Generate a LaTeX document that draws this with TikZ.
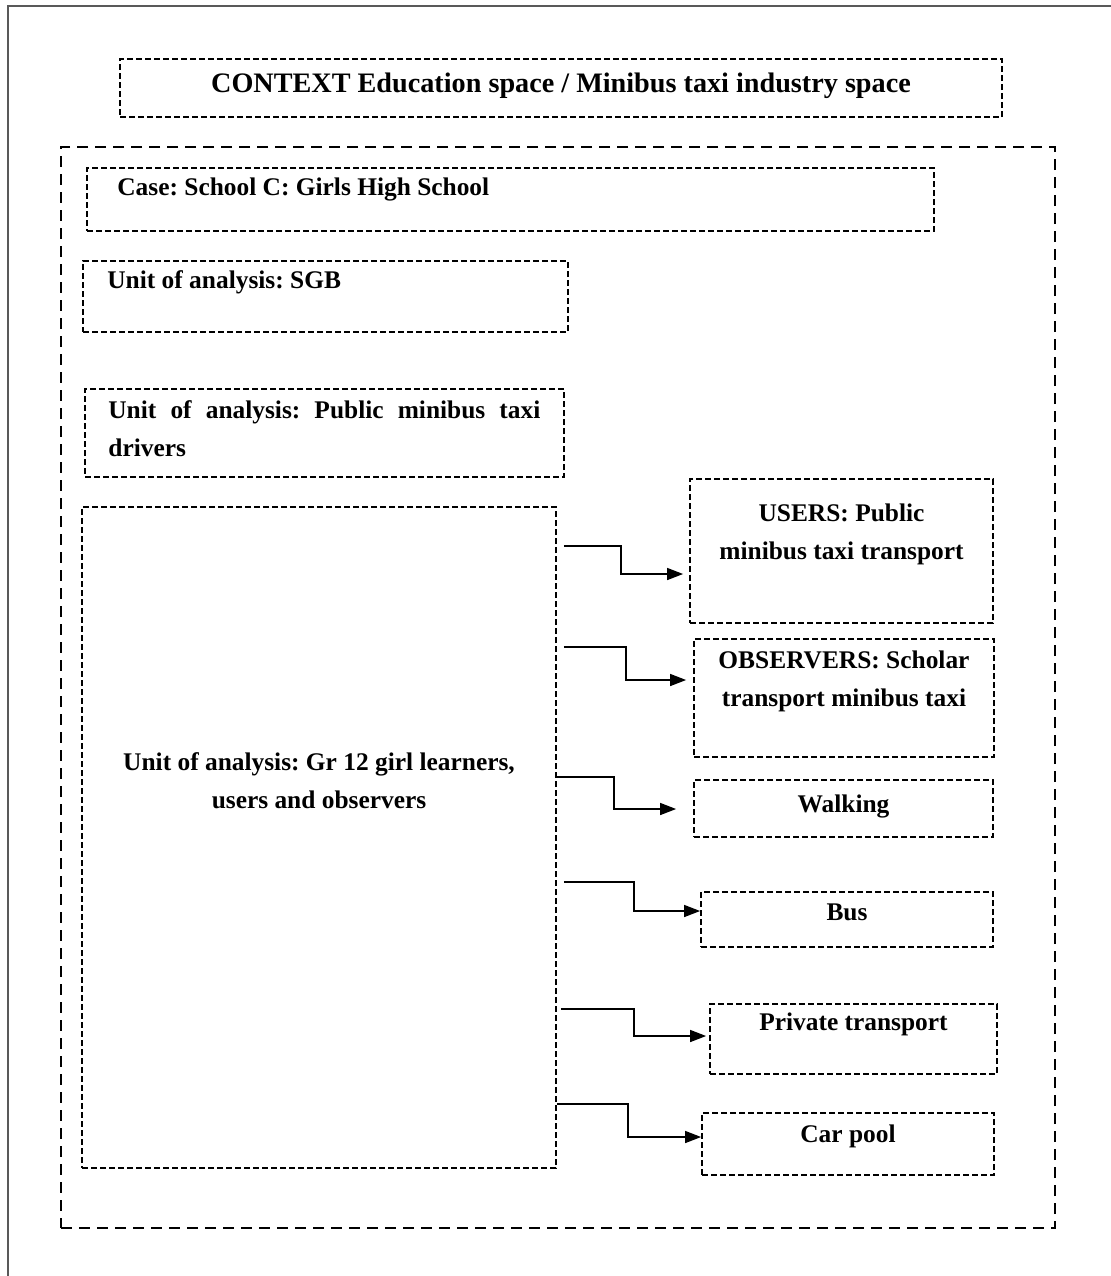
\documentclass[tikz,border=0pt]{standalone}
\usepackage{fontspec}
\setmainfont{Liberation Serif}
\usetikzlibrary{arrows.meta,fit}
\begin{document}
\frenchspacing
\begin{tikzpicture}[x=0.5pt,y=-0.5pt,
  box/.style={draw=black, line width=0.9pt, dash pattern=on 3pt off 1.5pt, inner sep=0pt},
  bigbox/.style={draw=black, line width=1.1pt, dash pattern=on 5.5pt off 3.5pt, inner sep=0pt},
  txt/.style={font=\fontsize{12.7}{19}\selectfont\bfseries, inner sep=0pt, anchor=base, align=center},
  txtl/.style={txt, anchor=base west, align=left},
  link/.style={draw=black, line width=0.75pt, -{Triangle[length=8pt,width=6pt]}}]
\clip (0,0) rectangle (1111,1276);
\useasboundingbox (0,0) rectangle (1111,1276);
% page frame
\draw[line width=1pt, draw=black!65] (8,6) rectangle (1140,1300);

% context
\node[box, fit={(120,59) (1002,117)}] (context) {};
\node[txt, font=\fontsize{14.1}{19}\selectfont\bfseries] (contexttext) at (561,92)
  {CONTEXT Education space / Minibus taxi industry space};

% case frame
\node[bigbox, fit={(61,147) (1055,1228)}] (casespace) {};

\node[box, fit={(87,168) (934,231)}] (case) {};
\node[txtl] (casetext) at (117,195) {Case: School C: Girls High School};

\node[box, fit={(83,261) (568,332)}] (sgb) {};
\node[txtl] (sgbtext) at (107,288) {Unit of analysis: SGB};

% two-line texts: the base anchor sits on the last line
\node[box, fit={(85,389) (564,477)}] (drivers) {};
\node[txtl] (driverstext) at (108,456)
  {\makebox[216pt][s]{Unit of analysis: Public minibus taxi}\\drivers};

\node[box, fit={(82,507) (556,1168)}] (learners) {};
\node[txt] (learnerstext) at (319,808) {Unit of analysis: Gr 12 girl learners,\\users and observers};

% modes of transport
\node[box, fit={(690,479) (993,623)}] (users) {};
\node[txt] (userstext) at (841.5,559) {USERS: Public\\minibus taxi transport};

\node[box, fit={(694,639) (994,757)}] (observers) {};
\node[txt] (observerstext) at (844,706) {OBSERVERS: Scholar\\transport minibus taxi};

\node[box, fit={(694,780) (993,837)}] (walking) {};
\node[txt] (walkingtext) at (843.5,812) {Walking};

\node[box, fit={(701,892) (993,947)}] (bus) {};
\node[txt] (bustext) at (847,920) {Bus};

\node[box, fit={(710,1004) (997,1074)}] (private) {};
\node[txt] (privatetext) at (853.5,1030) {Private transport};

\node[box, fit={(702,1113) (994,1175)}] (carpool) {};
\node[txt] (carpooltext) at (848,1142) {Car pool};

% connectors
\draw[link, shorten <=3.5pt, shorten >=3pt]
  (learners.east |- 0,546) -| (621,574) -- (users.west |- 0,574);
\draw[link, shorten <=3.5pt, shorten >=3.5pt]
  (learners.east |- 0,647) -| (626,680) -- (observers.west |- 0,680);
\draw[link, shorten <=-1pt, shorten >=8.5pt]
  (learners.east |- 0,777) -| (614,809) -- (walking.west |- 0,809);
\draw[link, shorten <=3.5pt]
  (learners.east |- 0,882) -| (634,911) -- (bus.west |- 0,911);
\draw[link, shorten <=2pt, shorten >=1.5pt]
  (learners.east |- 0,1009) -| (634,1036) -- (private.west |- 0,1036);
\draw[link]
  (learners.east |- 0,1104) -| (628,1137) -- (carpool.west |- 0,1137);
\end{tikzpicture}
\end{document}
